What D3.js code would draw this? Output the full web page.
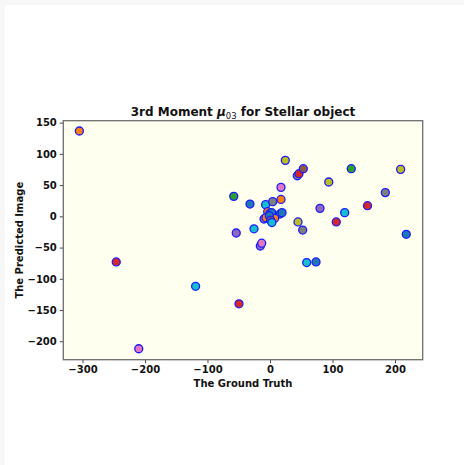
<!DOCTYPE html>
<html>
<head>
<meta charset="utf-8">
<script src="https://cdn.jsdelivr.net/npm/d3@7"></script>
<style>
  html, body { margin: 0; padding: 0; background: #f7f7f7; }
  svg { display: block; }
  text { font-family: "DejaVu Sans", sans-serif; }
</style>
</head>
<body>
<script>
// ---- data ----
const groundTruth = [-305, -246, -210, -119, -49.6, -58, -32, -54, -25.6, -15.5, -13.3, -7, 4.3, 17.6, 17.6, 24.5, 43.7, 46.4, 53.3, 130, 209, 94, 184.5, 80, 156, 119.5, 106, 44.8, 52.3, 218, 58.7, 73.6, 16, 19.2, -9.6, -3.7, 0, 2.7, -6.4, 1.6, 7.5, -1.1, 1.1, 3];
const predicted   = [136.6, -73, -212, -112, -140, 32, 19.7, -26.7, -20, -47.5, -43, 18.7, 23.5, 27, 46.4, 89.6, 65, 68.3, 76.3, 76.3, 75.2, 55, 38, 12.8, 17, 5.9, -9, -9, -22, -28.8, -74, -73, 3.7, 5.9, -4.3, 7.4, 4.9, 5.9, -2.2, -4.3, -3.2, 1, -6.4, -10];
const colorClass  = [1, 3, 6, 9, 3, 2, 0, 4, 9, 4, 6, 9, 7, 1, 6, 8, 7, 3, 5, 2, 8, 8, 7, 4, 3, 9, 3, 8, 7, 0, 9, 0, 0, 0, 4, 1, 0, 0, 1, 1, 1, 0, 5, 9];
const xTicks = [-300, -200, -100, 0, 100, 200];
const yTicks = [-200, -150, -100, -50, 0, 50, 100, 150];

const W = 464, H = 465;
const plot = { left: 63.3, right: 422.7, top: 120.7, bottom: 359.7 };

const svg = d3.select("body").append("svg").attr("width", W).attr("height", H);
svg.append("rect").attr("x", 5).attr("y", 5).attr("width", W - 5).attr("height", H - 5).attr("fill", "#ffffff");

const x = d3.scaleLinear().domain([-330.7, 244.3]).range([plot.left, plot.right]);
const y = d3.scaleLinear().domain([-229.5, 153.1]).range([plot.bottom, plot.top]);
const color = d3.scaleOrdinal().domain(d3.range(10)).range(d3.schemeCategory10);

svg.append("rect")
  .attr("x", plot.left).attr("y", plot.top)
  .attr("width", plot.right - plot.left).attr("height", plot.bottom - plot.top)
  .attr("fill", "#fffff0");

const xAxis = svg.append("g").attr("transform", `translate(0,${plot.bottom})`)
  .call(d3.axisBottom(x).tickValues(xTicks).tickSize(3.5).tickPadding(3).tickFormat(d => d < 0 ? "\u2212" + Math.abs(d) : d));
const yAxis = svg.append("g").attr("transform", `translate(${plot.left},0)`)
  .call(d3.axisLeft(y).tickValues(yTicks).tickSize(3.5).tickPadding(3).tickFormat(d => d < 0 ? "\u2212" + Math.abs(d) : d));
[xAxis, yAxis].forEach(g => {
  g.select(".domain").remove();
  g.selectAll(".tick line").attr("stroke", "#333").attr("stroke-width", 0.9);
  g.selectAll(".tick text").attr("font-size", 10).attr("font-weight", "bold")
    .attr("fill", "#111").attr("font-family", "DejaVu Sans");
});

// frame
svg.append("rect")
  .attr("x", plot.left).attr("y", plot.top)
  .attr("width", plot.right - plot.left).attr("height", plot.bottom - plot.top)
  .attr("fill", "none").attr("stroke", "#6e6e6e").attr("stroke-width", 1.3);

// points
svg.append("g").selectAll("circle")
  .data(groundTruth.map((g, i) => ({ gx: g, py: predicted[i], c: colorClass[i] })))
  .join("circle")
  .attr("cx", d => x(d.gx))
  .attr("cy", d => y(d.py))
  .attr("r", 4)
  .attr("fill", d => color(d.c))
  .attr("stroke", "#1a1aff")
  .attr("stroke-width", 1.3);

// title
const title = svg.append("text")
  .attr("x", (plot.left + plot.right) / 2).attr("y", 116)
  .attr("text-anchor", "middle").attr("font-size", 12).attr("font-weight", "bold").attr("fill", "#111");
title.append("tspan").text("3rd Moment ");
title.append("tspan").attr("font-style", "italic").text("\u03bc");
title.append("tspan").attr("font-size", 8.5).attr("font-weight", "normal").attr("dy", 2.5).text("03");
title.append("tspan").attr("dy", -2.5).text(" for Stellar object");

// axis labels
svg.append("text")
  .attr("x", (plot.left + plot.right) / 2).attr("y", 387)
  .attr("text-anchor", "middle").attr("font-size", 10).attr("font-weight", "bold").attr("fill", "#111")
  .text("The Ground Truth");
svg.append("text")
  .attr("transform", `translate(23,${(plot.top + plot.bottom) / 2}) rotate(-90)`)
  .attr("text-anchor", "middle").attr("font-size", 10).attr("font-weight", "bold").attr("fill", "#111")
  .text("The Predicted Image");
</script>
</body>
</html>
